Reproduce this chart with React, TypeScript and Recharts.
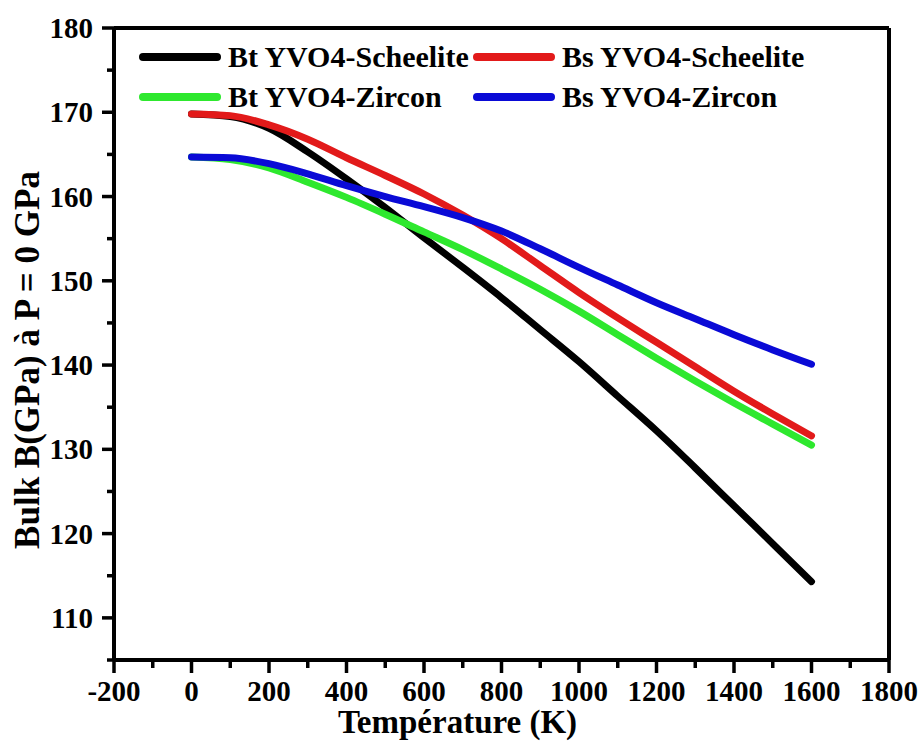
import React from 'react';
import {
    LineChart,
    Line,
    XAxis,
    YAxis,
    Legend,
    ReferenceLine
} from 'recharts';

const temperatures = [0, 100, 200, 300, 400, 500, 600, 700, 800, 900, 1000, 1100, 1200, 1300, 1400, 1500, 1600];
const btScheelite = [169.8, 169.5, 168.1, 165.3, 162.1, 158.7, 155.1, 151.6, 148.0, 144.2, 140.4, 136.3, 132.2, 127.8, 123.3, 118.8, 114.3];
const bsScheelite = [169.8, 169.6, 168.5, 166.8, 164.6, 162.5, 160.3, 157.8, 155.0, 151.8, 148.6, 145.6, 142.7, 139.8, 136.9, 134.2, 131.6];
const btZircon = [164.7, 164.4, 163.4, 161.7, 159.9, 157.9, 155.8, 153.7, 151.4, 149.0, 146.4, 143.6, 140.8, 138.1, 135.5, 133.0, 130.5];
const bsZircon = [164.7, 164.6, 163.9, 162.7, 161.3, 160.0, 158.8, 157.5, 155.9, 153.8, 151.6, 149.5, 147.4, 145.5, 143.6, 141.8, 140.1];

const xTicks = [-200, -100, 0, 100, 200, 300, 400, 500, 600, 700, 800, 900, 1000, 1100, 1200, 1300, 1400, 1500, 1600, 1700, 1800];
const yTicks = [105, 110, 115, 120, 125, 130, 135, 140, 145, 150, 155, 160, 165, 170, 175, 180];

// legend order is row by row: left column then right column
const series = [
    { key: 'btS', name: 'Bt YVO4-Scheelite', color: '#000000' },
    { key: 'bsS', name: 'Bs YVO4-Scheelite', color: '#e21a1a' },
    { key: 'btZ', name: 'Bt YVO4-Zircon', color: '#2ee82e' },
    { key: 'bsZ', name: 'Bs YVO4-Zircon', color: '#0a0ad6' },
];

const data = temperatures.map((t, i) => ({
    t,
    btS: btScheelite[i],
    bsS: bsScheelite[i],
    btZ: btZircon[i],
    bsZ: bsZircon[i],
}));

const FONT = '"Liberation Serif", "Times New Roman", serif';

const XTick = ({ x, y, payload }: any) => {
    const major = payload.value % 200 === 0;
    return (
        <g>
            <line x1={x} x2={x} y1={y} y2={y + (major ? 13 : 8)} stroke="#000" strokeWidth={3.5} />
            {major && (
                <text x={x} y={y + 41} textAnchor="middle" fontFamily={FONT} fontWeight="bold" fontSize={29} fill="#000">
                    {payload.value}
                </text>
            )}
        </g>
    );
};

const YTick = ({ x, y, payload }: any) => {
    const major = payload.value % 10 === 0;
    return (
        <g>
            <line x1={x} x2={x - (major ? 12 : 7)} y1={y} y2={y} stroke="#000" strokeWidth={3.5} />
            {major && (
                <text x={x - 21} y={y + 10} textAnchor="end" fontFamily={FONT} fontWeight="bold" fontSize={29} fill="#000">
                    {payload.value}
                </text>
            )}
        </g>
    );
};

const LegendBox = () => (
    <div style={{ display: 'grid', gridTemplateColumns: '334px auto', rowGap: 6, fontFamily: FONT }}>
        {series.map((s) => (
            <div key={s.key} style={{ display: 'flex', alignItems: 'center', height: 34 }}>
                <svg width={84} height={12} style={{ marginRight: 6 }}>
                    <line x1={5} x2={79} y1={6} y2={6} stroke={s.color} strokeWidth={8} strokeLinecap="round" />
                </svg>
                <span style={{ fontSize: 30, fontWeight: 'bold', color: '#000', whiteSpace: 'nowrap' }}>{s.name}</span>
            </div>
        ))}
    </div>
);

export default function App() {
    return (
        <div style={{ position: 'absolute', left: 0, top: 0, background: '#fff' }}>
            <LineChart width={924} height={743} data={data} margin={{ top: 28, right: 35, bottom: 0, left: 0 }}>
                <XAxis
                    dataKey="t"
                    type="number"
                    domain={[-200, 1800]}
                    ticks={xTicks}
                    interval={0}
                    height={83}
                    tickSize={0}
                    tickMargin={0}
                    tickLine={false}
                    axisLine={{ stroke: '#000', strokeWidth: 4 }}
                    tick={<XTick />}
                    label={(props: any) => {
                        const vb = props.viewBox;
                        return (
                            <text x={vb.x + vb.width / 2 - 44} y={733} textAnchor="middle" fontFamily={FONT} fontWeight="bold" fontSize={33} fill="#000">
                                Température (K)
                            </text>
                        );
                    }}
                />
                <YAxis
                    type="number"
                    domain={[105, 180]}
                    ticks={yTicks}
                    interval={0}
                    width={114}
                    tickSize={0}
                    tickMargin={0}
                    tickLine={false}
                    axisLine={{ stroke: '#000', strokeWidth: 4 }}
                    tick={<YTick />}
                    label={(props: any) => {
                        const vb = props.viewBox;
                        const cy = vb.y + vb.height / 2 + 16;
                        return (
                            <text x={27} y={cy} transform={`rotate(-90 27 ${cy})`} textAnchor="middle" dominantBaseline="central" fontFamily={FONT} fontWeight="bold" fontSize={35} fill="#000">
                                Bulk B(GPa) à P = 0 GPa
                            </text>
                        );
                    }}
                />
                <ReferenceLine y={180} stroke="#000" strokeWidth={4} />
                <ReferenceLine x={1800} stroke="#000" strokeWidth={4} />
                <Legend
                    layout="horizontal"
                    verticalAlign="middle"
                    align="center"
                    content={<LegendBox />}
                    wrapperStyle={{ top: 40, left: 138, width: 700 }}
                />
                {series.map((s) => (
                    <Line
                        key={s.key}
                        type="monotone"
                        dataKey={s.key}
                        name={s.name}
                        stroke={s.color}
                        strokeWidth={7}
                        strokeLinecap="round"
                        dot={false}
                        isAnimationActive={false}
                    />
                ))}
            </LineChart>
        </div>
    );
}
